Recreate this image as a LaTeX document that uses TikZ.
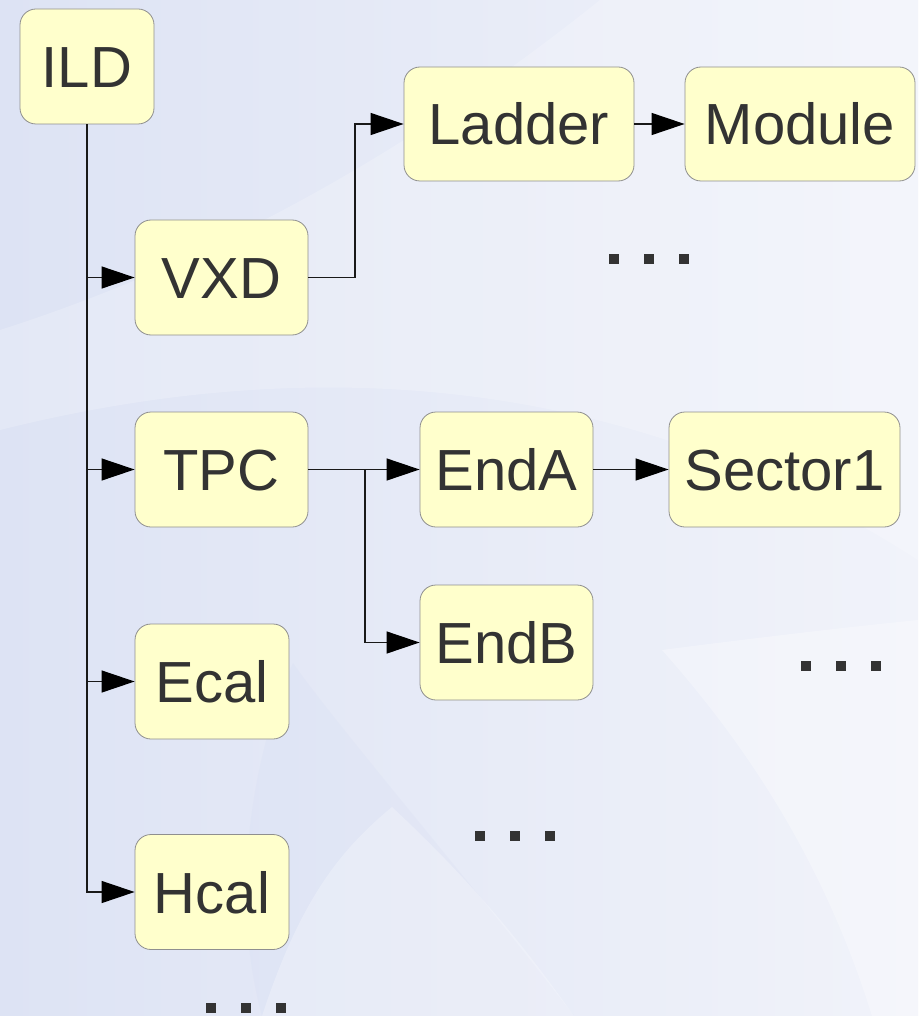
\documentclass[tikz,border=0pt]{standalone}
\usepackage{fontspec}
\setmainfont{Liberation Sans}
\usetikzlibrary{arrows.meta}
\definecolor{bgL}{HTML}{DDE3F4}
\definecolor{bgR}{HTML}{F1F3FA}
\definecolor{boxfill}{HTML}{FFFFCC}
\definecolor{boxline}{HTML}{8F8F8F}
\definecolor{txt}{HTML}{333333}
\definecolor{swoosh}{HTML}{C9D1EE}
\begin{document}
\begin{tikzpicture}[x=1pt,y=-1pt,
  box/.style={draw=boxline, line width=0.8pt, fill=boxfill, rounded corners=16pt,
    minimum height=115pt, text height=42pt, text depth=0pt, inner sep=0pt,
    font=\fontsize{58}{60}\selectfont, text=txt},
  link/.style={draw=black!90, line width=1.2pt, -{Triangle[length=33pt,width=22pt,fill=black,color=black]}},
  dotsq/.style={fill=txt}]
% background
\useasboundingbox (0,0) rectangle (918,1016);
\fill[left color=bgL, right color=bgR] (0,0) rectangle (918,1016);
\fill[white, opacity=0.2] (0,330) .. controls (250,250) and (450,120) .. (600,0) -- (918,0) -- (918,560) .. controls (700,420) and (400,330) .. (0,430) -- cycle;
\fill[swoosh, opacity=0.12] (293,663) .. controls (340,730) and (470,880) .. (574,1016) -- (262,1016) .. controls (230,900) and (250,760) .. (293,663) -- cycle;
\fill[white, opacity=0.25] (262,1016) .. controls (300,900) and (340,850) .. (392,807) .. controls (470,880) and (520,940) .. (574,1016) -- cycle;
\fill[white, opacity=0.3] (662,650) .. controls (760,760) and (830,880) .. (872,1016) -- (918,1016) -- (918,620) .. controls (820,630) and (740,640) .. (662,650) -- cycle;
% nodes
\node[box, minimum width=134pt] (ild) at (87,66.5) {ILD};
\node[box, minimum width=173pt] (vxd) at (221.5,277.5) {VXD};
\node[box, minimum width=173pt] (tpc) at (221.5,469.5) {TPC};
\node[box, minimum width=154pt] (ecal) at (212,681.5) {Ecal};
\node[box, minimum width=154pt] (hcal) at (212,892) {Hcal};
\node[box, minimum width=230pt, minimum height=114pt] (ladder) at (519,124) {Ladder};
\node[box, minimum width=230pt, minimum height=114pt] (module) at (800,124) {Module};
\node[box, minimum width=173pt] (enda) at (506.5,469.5) {EndA};
\node[box, minimum width=231pt] (sector) at (784.5,469.5) {Sector1};
\node[box, minimum width=173pt] (endb) at (506.5,642.5) {EndB};
% junction coordinates
\coordinate (j1) at (355,0);
\coordinate (j2) at (365,0);
% connectors
\draw[link] (ild.south) |- (vxd.west);
\draw[link] (ild.south) |- (tpc.west);
\draw[link] (ild.south) |- (ecal.west);
\draw[link] (ild.south) |- (hcal.west);
\draw[link] (vxd.east) -- (vxd.east -| j1) |- (ladder.west);
\draw[link] (ladder.east) -- (module.west);
\draw[link] (tpc.east) -- (enda.west);
\draw[link] (tpc.east) -- (tpc.east -| j2) |- (endb.west);
\draw[link] (enda.east) -- (sector.west);
% ellipsis squares
\foreach \cx/\cy in {649/259, 841/666, 515/836, 246/1008} {
  \foreach \d in {-35,0,35} {
    \fill[dotsq] (\cx+\d-5.25,\cy-5.25) rectangle ++(10.5,10.5);
  }
}
\end{tikzpicture}
\end{document}
